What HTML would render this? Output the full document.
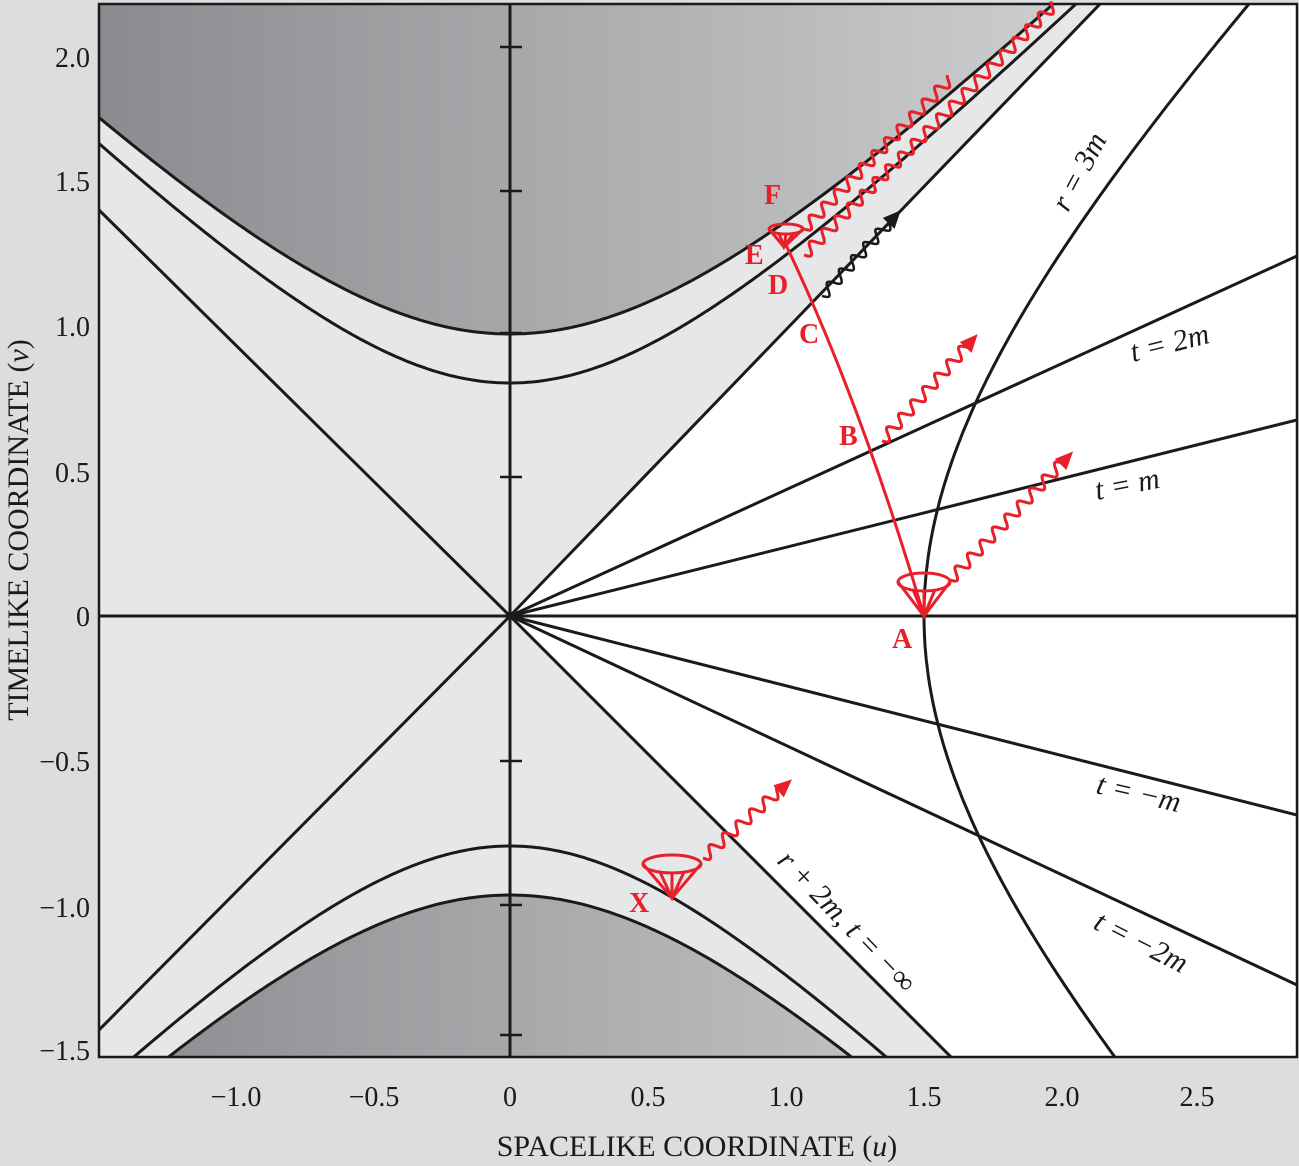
<!DOCTYPE html>
<html><head><meta charset="utf-8"><style>
html,body{margin:0;background:#dcdddf;overflow:hidden;width:1299px;height:1166px;}
svg{display:block;}
text{font-family:"Liberation Serif",serif;}
</style></head><body>
<svg id="s" width="1299" height="1166" viewBox="0 0 1299 1166" xmlns="http://www.w3.org/2000/svg">
<defs>
<linearGradient id="g" x1="99" y1="0" x2="1040" y2="0" gradientUnits="userSpaceOnUse">
<stop offset="0" stop-color="#8a8b8e"/><stop offset="1" stop-color="#cbcccd"/></linearGradient>
<clipPath id="c"><rect x="99" y="4" width="1198" height="1053"/></clipPath>
</defs>
<rect x="0" y="0" width="1299" height="1166" fill="#dcdddf"/>
<g clip-path="url(#c)">
<rect x="99" y="4" width="1198" height="1053" fill="#e6e7e9"/>
<polygon points="510,616 1100,4 1297,4 1297,1057 951,1057" fill="#fff"/>
<path id="darkTop" fill="url(#g)"/>
<path id="darkBot" fill="url(#g)"/>
<g id="lines" fill="none" stroke="#1a1a1a" stroke-width="3"></g>
</g>
<rect x="99" y="4" width="1198" height="1053" fill="none" stroke="#1a1a1a" stroke-width="2.5"/>
<g stroke="#1a1a1a" stroke-width="2.5">
<line x1="500" y1="47" x2="522" y2="47"/><line x1="500" y1="191" x2="522" y2="191"/>
<line x1="500" y1="333" x2="522" y2="333"/><line x1="500" y1="477" x2="522" y2="477"/>
<line x1="500" y1="761" x2="522" y2="761"/><line x1="500" y1="905" x2="522" y2="905"/>
<line x1="500" y1="1035" x2="522" y2="1035"/>
</g>
<g id="red" fill="none" stroke="#e8202a" stroke-width="3"></g>
<g id="blk" fill="none" stroke="#1a1a1a" stroke-width="2.5"></g>
<g font-size="28" fill="#1a1a1a" text-anchor="end">
<text x="90" y="67">2.0</text><text x="90" y="191">1.5</text><text x="90" y="336">1.0</text>
<text x="90" y="482">0.5</text><text x="90" y="626">0</text><text x="90" y="771">−0.5</text>
<text x="90" y="917">−1.0</text><text x="90" y="1060">−1.5</text>
</g>
<g font-size="28" fill="#1a1a1a" text-anchor="middle">
<text x="236" y="1106">−1.0</text><text x="374" y="1106">−0.5</text><text x="510" y="1106">0</text>
<text x="648" y="1106">0.5</text><text x="786" y="1106">1.0</text><text x="924" y="1106">1.5</text>
<text x="1062" y="1106">2.0</text><text x="1197" y="1106">2.5</text>
<text x="697" y="1156" font-size="30">SPACELIKE COORDINATE (<tspan font-style="italic">u</tspan>)</text>
<text transform="translate(28,530) rotate(-90)" font-size="30">TIMELIKE COORDINATE (<tspan font-style="italic">v</tspan>)</text>
</g>
<g font-size="30" fill="#1a1a1a" font-style="italic">
<text transform="translate(1068,213) rotate(-62)">r = 3m</text>
<text transform="translate(1133,362) rotate(-14)">t = 2m</text>
<text transform="translate(1097,500) rotate(-11)">t = m</text>
<text transform="translate(1095,793) rotate(13)">t = −m</text>
<text transform="translate(1092,928) rotate(27)">t = −2m</text>
<text transform="translate(776,862) rotate(46)">r + 2m, t = −∞</text>
</g>
<g font-size="28" fill="#e8202a" font-weight="bold">
<text x="764" y="204">F</text><text x="745" y="264">E</text><text x="768" y="294">D</text>
<text x="799" y="343">C</text><text x="839" y="445">B</text><text x="892" y="648">A</text><text x="629" y="912">X</text>
</g>
</svg>
<script>
var NS="http://www.w3.org/2000/svg";
function hyp(vy,sign,a){var p=[];for(var x=60;x<=1320;x+=4){var dx=x-510;p.push([x,616-sign*Math.sqrt(dx*dx+a*a)]);}return p;}
function ps(p){return p.map(function(q,i){return (i?"L":"M")+q[0].toFixed(1)+","+q[1].toFixed(1);}).join("");}
function add(g,tag,attrs){var e=document.createElementNS(NS,tag);for(var k in attrs)e.setAttribute(k,attrs[k]);document.getElementById(g).appendChild(e);return e;}
var t1=hyp(0,1,282),t2=hyp(0,1,233),b1=hyp(0,-1,279),b2=hyp(0,-1,230);
document.getElementById("darkTop").setAttribute("d",ps(t1)+"L1320,-10L60,-10Z");
document.getElementById("darkBot").setAttribute("d",ps(b1)+"L1320,1200L60,1200Z");
[t1,t2,b1,b2].forEach(function(p){add("lines","path",{d:ps(p)});});
var r=[];for(var y=-20;y<=1080;y+=4){var dy=y-616;r.push([510+Math.sqrt(dy*dy+414*414),y]);}
add("lines","path",{d:ps(r)});
function ext(x2,y2){var dx=x2-510,dy=y2-616;add("lines","line",{x1:510,y1:616,x2:510+dx*1.2,y2:616+dy*1.2});}
ext(99,210);ext(99,1030);ext(1100,4);ext(951,1057);
add("lines","line",{x1:99,y1:616,x2:1297,y2:616});
add("lines","line",{x1:510,y1:0,x2:510,y2:1060});
[-360,-196,199,369].forEach(function(d){add("lines","line",{x1:510,y1:616,x2:1297,y2:616+d});});
add("red","path",{d:"M924,616 Q860,400 786,245"});
function cone(g,cx,cy,rx,ry,vx,vy){add(g,"ellipse",{cx:cx,cy:cy,rx:rx,ry:ry});
 add(g,"path",{d:"M"+(cx-rx)+","+cy+"L"+vx+","+vy+"L"+(cx+rx)+","+cy});
 add(g,"path",{d:"M"+(cx-rx*0.4)+","+(cy+ry)+"L"+vx+","+vy+"L"+(cx+rx*0.4)+","+(cy+ry)+"M"+cx+","+(cy+ry)+"L"+vx+","+vy});}
cone("red",924,582,26,9,924,616);
cone("red",786,229,17,5,784,247);
cone("red",672,864,29,9,672,898);
function wave(g,x1,y1,x2,y2,arrow,col){var dx=x2-x1,dy=y2-y1,L=Math.sqrt(dx*dx+dy*dy),ux=dx/L,uy=dy/L,nx=-uy,ny=ux;var p=[];
 for(var s=0;s<=L;s+=1){var a=5.5*Math.sin(s/18*2*Math.PI);p.push([x1+ux*s+nx*a,y1+uy*s+ny*a]);}
 add(g,"path",{d:ps(p)});
 if(arrow){var hx=x2+ux*16,hy=y2+uy*16;add(g,"polygon",{points:hx+","+hy+" "+(x2+nx*8-ux*2)+","+(y2+ny*8-uy*2)+" "+(x2-nx*8-ux*2)+","+(y2-ny*8-uy*2),fill:col,stroke:"none"});}}
wave("red",950,580,1062,463,true,"#e8202a");
wave("red",882,441,967,346,true,"#e8202a");
wave("red",703,858,780,790,true,"#e8202a");
wave("red",804,229,951,78,false);
wave("red",804,255,1055,4,false);
wave("blk",822,296,890,222,true,"#1a1a1a");
</script>
</body></html>
